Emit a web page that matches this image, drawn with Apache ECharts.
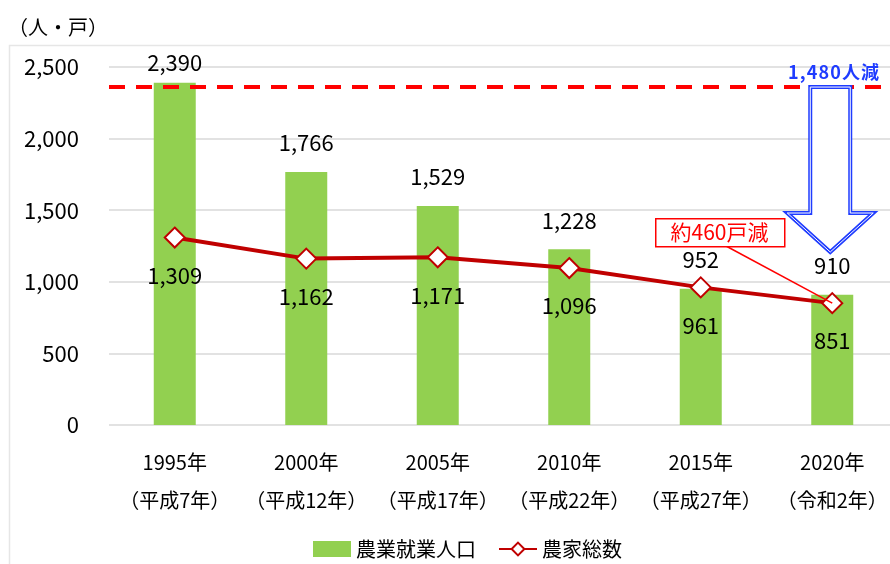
<!DOCTYPE html>
<html>
<head>
<meta charset="utf-8">
<script src="https://cdn.jsdelivr.net/npm/echarts@6/dist/echarts.min.js"></script>
<style>
  html, body { margin: 0; padding: 0; background: #fff; overflow: hidden; }
  #chart { width: 898px; height: 564px; }
</style>
</head>
<body>
<div id="chart"></div>
<script>
// data
const years = ['1995年', '2000年', '2005年', '2010年', '2015年', '2020年'];
const eras = ['（平成7年）', '（平成12年）', '（平成17年）', '（平成22年）', '（平成27年）', '（令和2年）'];
const workers = [2390, 1766, 1529, 1228, 952, 910];
const households = [1309, 1162, 1171, 1096, 961, 851];
const refLevel = 2360;

const font = '"Noto Sans CJK JP", "Noto Sans", sans-serif';
const chart = echarts.init(document.getElementById('chart'));

const fmt = v => v.toLocaleString('en-US');

const option = {
  animation: false,
  textStyle: { fontFamily: font },
  // chart canvas is a bit wider than the window so the last category gets clipped like the original
  grid: { left: 109, right: 0, top: 67, bottom: 139 },
  legend: {
    bottom: 0,
    left: 308,
    itemGap: 22,
    itemWidth: 38,
    itemHeight: 16,
    textStyle: { fontSize: 20, color: '#000', fontFamily: font },
    data: [
      { name: '農業就業人口', icon: 'rect' },
      { name: '農家総数' }
    ]
  },
  xAxis: {
    type: 'category',
    data: years.map((y, i) => y + '\n' + eras[i]),
    axisLine: { show: false },
    axisTick: { show: false },
    axisLabel: {
      interval: 0, color: '#000', fontSize: 20, lineHeight: 38, margin: 18, fontFamily: font
    }
  },
  yAxis: {
    type: 'value',
    min: 0,
    max: 2500,
    interval: 500,
    axisLine: { show: false },
    axisTick: { show: false },
    axisLabel: { color: '#000', fontSize: 22, margin: 30, formatter: fmt },
    splitLine: { lineStyle: { color: '#d9d9d9', width: 1.5 } }
  },
  series: [
    {
      name: '農業就業人口',
      type: 'bar',
      // the tallest label sits tighter to its bar in the original
      data: workers.map((v, i) => i === 0 ? { value: v, label: { distance: 9 } } : v),
      barWidth: 42,
      itemStyle: { color: '#92d050' },
      label: {
        show: true, position: 'top', distance: 18,
        color: '#000', fontSize: 22,
        formatter: p => fmt(p.value)
      },
      markLine: {
        silent: true,
        symbol: 'none',
        label: { show: false },
        lineStyle: { color: '#ff0000', type: [16, 11], width: 4 },
        data: [{ yAxis: refLevel }]
      }
    },
    {
      name: '農家総数',
      type: 'line',
      data: households,
      symbol: 'diamond',
      symbolSize: 20,
      lineStyle: { color: '#c00000', width: 4 },
      itemStyle: { color: '#fff', borderColor: '#c00000', borderWidth: 2 },
      label: {
        show: true, position: 'bottom', distance: 16,
        color: '#000', fontSize: 22,
        formatter: p => fmt(p.value)
      },
      z: 5
    }
  ]
};
chart.setOption(option);

// annotations
const last = years.length - 1;
const pLine = chart.convertToPixel({ seriesIndex: 1 }, [last, households[last]]);
const pRef = chart.convertToPixel({ seriesIndex: 0 }, [last, refLevel]);
const cx = pRef[0] - 2;
const topY = pRef[1];
const headTop = 213, headBot = 252;
const arrowPts = [
  [cx - 20, topY], [cx + 20, topY], [cx + 20, headTop], [cx + 43, headTop],
  [cx, headBot], [cx - 43, headTop], [cx - 20, headTop]
];
const spaced = s => s.split('').join('\u200A');

chart.setOption({
  graphic: [
    {
      type: 'rect', left: 7, top: 43, silent: true,
      shape: { width: 900, height: 600 },
      style: { fill: 'none', stroke: '#e6e6e6', lineWidth: 1.5 }
    },
    {
      type: 'text', x: 8, y: 27,
      style: {
        text: '（人・戸）', fill: '#000', font: '20px ' + font,
        textAlign: 'left', textVerticalAlign: 'middle'
      }
    },
    {
      type: 'polygon', z: 10,
      shape: { points: arrowPts },
      style: { fill: '#fff', stroke: '#1f3cff', lineWidth: 4 }
    },
    {
      type: 'polygon', z: 11,
      shape: { points: arrowPts },
      style: { fill: 'none', stroke: '#fff', lineWidth: 1 }
    },
    {
      type: 'text', z: 10, x: 879, y: 72,
      style: {
        text: spaced('1,480人減'), fill: '#1f3cff', font: 'bold 18px ' + font,
        textAlign: 'right', textVerticalAlign: 'middle'
      }
    },
    {
      type: 'line', z: 9,
      shape: { x1: 726, y1: 246, x2: pLine[0], y2: pLine[1] },
      style: { stroke: '#ff0000', lineWidth: 1.5 }
    },
    {
      type: 'rect', z: 10, left: 655, top: 218,
      shape: { width: 129, height: 28 },
      style: { fill: '#fff', stroke: '#ff0000', lineWidth: 1.5 }
    },
    {
      type: 'text', z: 11, x: 719.5, y: 232,
      style: {
        text: '約460戸減', fill: '#ff0000', font: '21px ' + font,
        textAlign: 'center', textVerticalAlign: 'middle'
      }
    }
  ]
});
</script>
</body>
</html>
